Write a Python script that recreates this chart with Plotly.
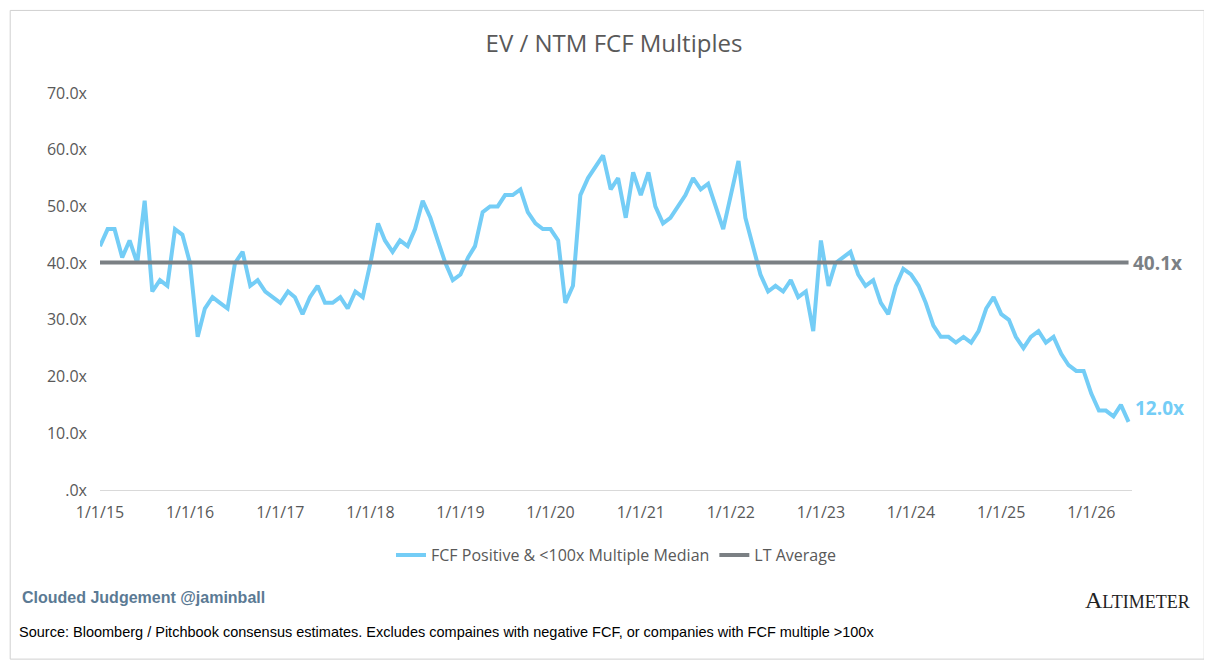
import pandas as pd
import plotly.graph_objects as go

# monthly readings of the median multiple, Jan 2015 - Jun 2026
values = [
    43, 46, 46, 41, 44, 40, 51, 35, 37, 36, 46, 45,   # 2015
    40, 27, 32, 34, 33, 32, 40, 42, 36, 37, 35, 34,   # 2016
    33, 35, 34, 31, 34, 36, 33, 33, 34, 32, 35, 34,   # 2017
    40, 47, 44, 42, 44, 43, 46, 51, 48, 44, 40, 37,   # 2018
    38, 41, 43, 49, 50, 50, 52, 52, 53, 49, 47, 46,   # 2019
    46, 44, 33, 36, 52, 55, 57, 59, 53, 55, 48, 56,   # 2020
    52, 56, 50, 47, 48, 50, 52, 55, 53, 54, 50, 46,   # 2021
    52, 58, 48, 43, 38, 35, 36, 35, 37, 34, 35, 28,   # 2022
    44, 36, 40, 41, 42, 38, 36, 37, 33, 31, 36, 39,   # 2023
    38, 36, 33, 29, 27, 27, 26, 27, 26, 28, 32, 34,   # 2024
    31, 30, 27, 25, 27, 28, 26, 27, 24, 22, 21, 21,   # 2025
    17, 14, 14, 13, 15, 12,                           # 2026
]
dates = pd.date_range("2015-01-01", periods=len(values), freq="MS")
lt_average = 40.1
last_value = 12.0

tick_years = list(range(2015, 2027))
tick_dates = [f"{y}-01-01" for y in tick_years]
tick_text = [f"1/1/{str(y)[2:]}" for y in tick_years]
y_ticks = [0, 10, 20, 30, 40, 50, 60, 70]
y_text = [".0x"] + [f"{v:.1f}x" for v in y_ticks[1:]]

blue = "#74CDF6"
grey = "#7B8084"

fig = go.Figure()
fig.add_trace(go.Scatter(x=dates, y=values, mode="lines",
                         line=dict(color=blue, width=4),
                         name="FCF Positive & <100x Multiple Median"))
fig.add_trace(go.Scatter(x=[dates[0], dates[-1]], y=[lt_average, lt_average],
                         mode="lines", line=dict(color=grey, width=4),
                         name="LT Average"))

fig.add_annotation(x=dates[-1], y=lt_average, text="<b>40.1x</b>", xanchor="left",
                   xshift=2, showarrow=False, font=dict(size=19, color=grey))
fig.add_annotation(x=dates[-1], y=last_value + 2.5, text="<b>12.0x</b>", xanchor="left",
                   xshift=4, showarrow=False, font=dict(size=19, color=blue))

fig.add_annotation(xref="paper", yref="paper", x=-0.078, y=-0.27, xanchor="left",
                   yanchor="middle", text="<b>Clouded Judgement @jaminball</b>", showarrow=False,
                   font=dict(family="Arial", size=16, color="#5B7A94"))
fig.add_annotation(xref="paper", yref="paper", x=1.058, y=-0.277, xanchor="right",
                   yanchor="middle", text="A<span style='font-size:18px'>LTIMETER</span>",
                   showarrow=False, font=dict(family="Liberation Serif", size=24, color="#222"))
fig.add_annotation(xref="paper", yref="paper", x=-0.08, y=-0.358, xanchor="left",
                   yanchor="middle",
                   text="Source: Bloomberg / Pitchbook consensus estimates. Excludes compaines with negative FCF, or companies with FCF multiple >100x",
                   showarrow=False, font=dict(family="Arial", size=14.5, color="#000"))

fig.add_shape(type="rect", xref="paper", yref="paper", x0=-0.087, x1=1.07, y0=-0.426, y1=1.208,
              line=dict(color="#D0D0D0", width=1))

fig.update_layout(
    width=1212, height=664,
    title=dict(text="EV / NTM FCF Multiples", x=0.5, y=1 - 36 / 664, xanchor="center",
               yanchor="middle", font=dict(family="Open Sans", size=24, color="#595959")),
    font=dict(family="Open Sans", size=16, color="#595959"),
    plot_bgcolor="white", paper_bgcolor="white",
    margin=dict(l=92, r=88, t=85, b=182, autoexpand=False),
    showlegend=True,
    legend=dict(orientation="h", x=0.5, xanchor="center", y=-0.164, yanchor="middle",
                font=dict(size=16, color="#595959")),
    xaxis=dict(tickvals=tick_dates, ticktext=tick_text, showgrid=False,
               range=["2015-01-01", "2026-06-15"], showline=True, linecolor="#D9D9D9",
               ticks="", tickfont=dict(size=16), ticklabelstandoff=8),
    yaxis=dict(tickvals=y_ticks, ticktext=y_text, range=[0, 70], showgrid=False,
               zeroline=False, tickfont=dict(size=16), ticklabelstandoff=12),
)

fig.write_html("out.html")
